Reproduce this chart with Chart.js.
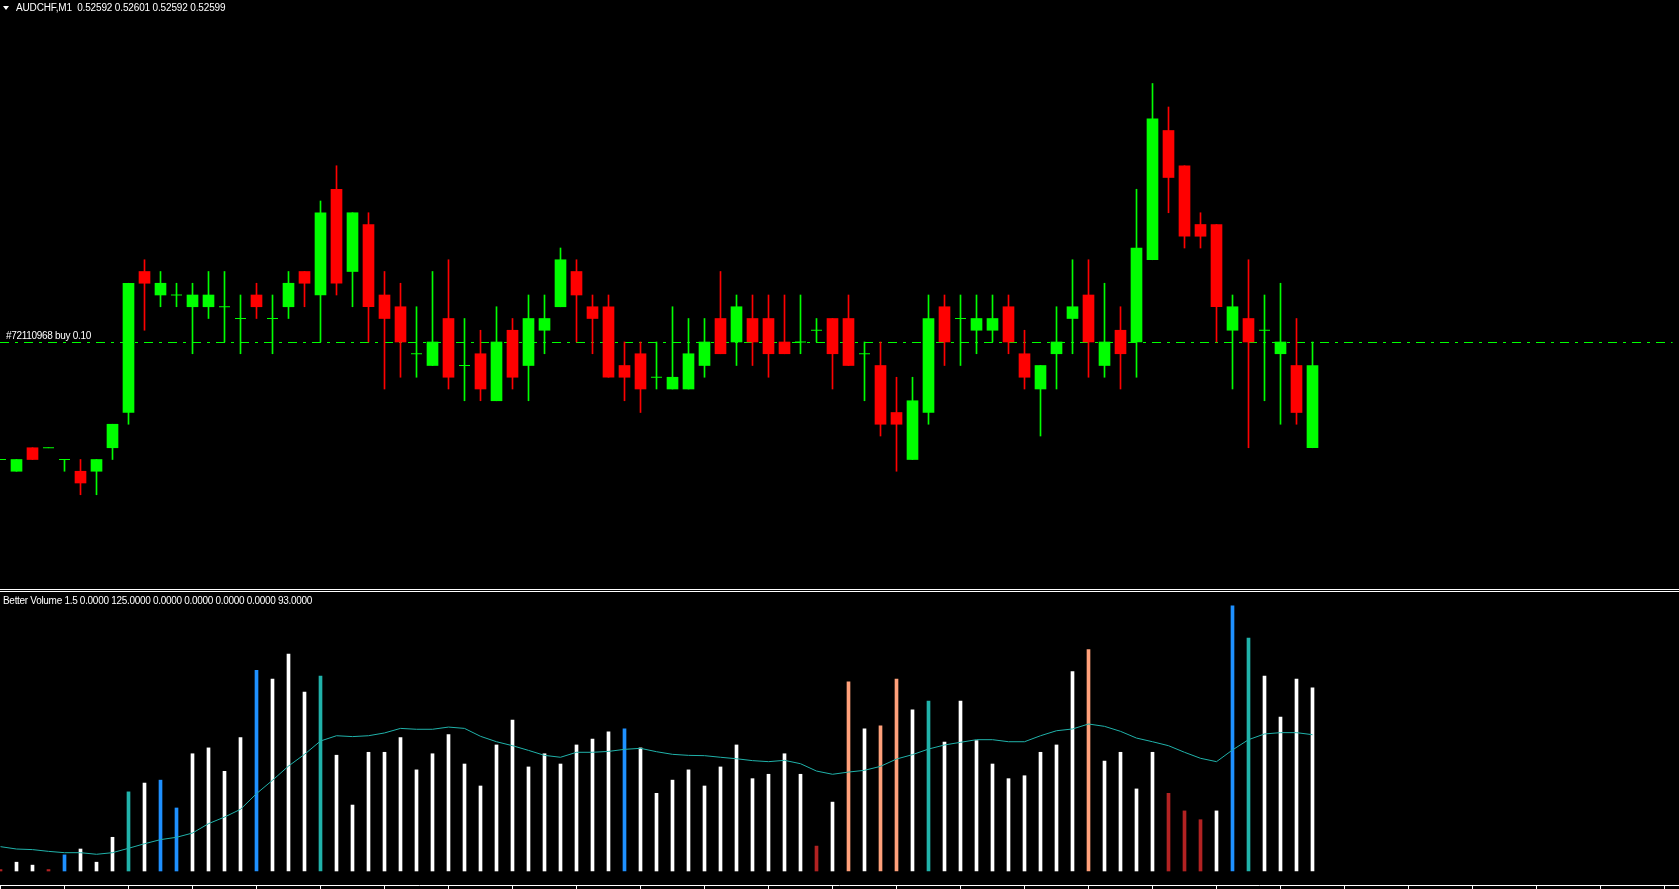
<!DOCTYPE html>
<html>
<head>
<meta charset="utf-8">
<script src="https://cdn.jsdelivr.net/npm/chart.js@4/dist/chart.umd.min.js"></script>
<style>
  body { margin: 0; background: #000; overflow: hidden; width: 1679px; height: 889px; position: relative;
         font-family: "Liberation Sans", Arial, sans-serif; }
  #price { position: absolute; left: 0; top: 0; }
  #vol { position: absolute; left: 0; top: 592px; }
  .lbl { position: absolute; color: #fff; font-size: 10px; line-height: 12px; letter-spacing: -0.3px; white-space: pre; }
  .sep { position: absolute; left: 0; width: 1679px; height: 1px; background: #fff; }
  #tri { position: absolute; left: 3px; top: 6px; width: 0; height: 0;
         border-left: 3px solid transparent; border-right: 3px solid transparent; border-top: 4px solid #fff; }
</style>
</head>
<body>
<canvas id="price" width="1679" height="589"></canvas>
<div class="sep" style="top:589px"></div>
<div class="sep" style="top:591px"></div>
<canvas id="vol" width="1679" height="297"></canvas>
<div id="tri"></div>
<div class="lbl" id="head" style="left:16px;top:2px;letter-spacing:-0.15px"></div>
<div class="lbl" id="order" style="left:6px;top:330px"></div>
<div class="lbl" id="ind" style="left:3px;top:595px"></div>

<script>
// AUDCHF M1 candles, oldest first
var symbol = "AUDCHF";
var timeframe = "M1";

var open = [0.52591,0.52590,0.52592,0.52592,0.52591,0.52590,0.52590,0.52592,0.52595,0.52607,
  0.52605,0.52605,0.52604,0.52604,0.52604,0.52603,0.52605,0.52603,0.52604,0.52607,
  0.52605,0.52614,0.52607,0.52611,0.52605,0.52604,0.52600,0.52599,0.52603,0.52599,
  0.52600,0.52596,0.52602,0.52599,0.52602,0.52604,0.52607,0.52604,0.52604,0.52599,
  0.52600,0.52598,0.52597,0.52597,0.52599,0.52603,0.52601,0.52603,0.52603,0.52601,
  0.52601,0.52602,0.52603,0.52603,0.52600,0.52599,0.52595,0.52591,0.52595,0.52604,
  0.52603,0.52602,0.52602,0.52604,0.52600,0.52597,0.52600,0.52603,0.52605,0.52599,
  0.52602,0.52601,0.52608,0.52619,0.52616,0.52611,0.52611,0.52602,0.52603,0.52602,
  0.52600,0.52599,0.52592];

var high = [0.52591,0.52591,0.52592,0.52592,0.52591,0.52591,0.52591,0.52594,0.52606,0.52608,
  0.52607,0.52606,0.52606,0.52607,0.52607,0.52605,0.52606,0.52605,0.52607,0.52607,
  0.52613,0.52616,0.52612,0.52612,0.52607,0.52606,0.52604,0.52607,0.52608,0.52603,
  0.52602,0.52604,0.52603,0.52605,0.52605,0.52609,0.52608,0.52605,0.52605,0.52601,
  0.52601,0.52601,0.52604,0.52603,0.52603,0.52607,0.52605,0.52605,0.52605,0.52605,
  0.52605,0.52603,0.52603,0.52605,0.52601,0.52601,0.52598,0.52598,0.52605,0.52605,
  0.52605,0.52605,0.52605,0.52605,0.52602,0.52599,0.52604,0.52608,0.52608,0.52606,
  0.52604,0.52614,0.52623,0.52621,0.52616,0.52612,0.52611,0.52605,0.52608,0.52605,
  0.52606,0.52603,0.52601];

var low = [0.52591,0.52590,0.52591,0.52592,0.52590,0.52588,0.52588,0.52591,0.52594,0.52602,
  0.52604,0.52604,0.52600,0.52603,0.52601,0.52600,0.52603,0.52600,0.52603,0.52604,
  0.52601,0.52605,0.52604,0.52601,0.52597,0.52598,0.52598,0.52599,0.52597,0.52596,
  0.52596,0.52596,0.52597,0.52596,0.52600,0.52604,0.52601,0.52600,0.52598,0.52596,
  0.52595,0.52597,0.52597,0.52597,0.52598,0.52600,0.52599,0.52599,0.52598,0.52600,
  0.52600,0.52601,0.52597,0.52599,0.52596,0.52593,0.52590,0.52591,0.52594,0.52599,
  0.52599,0.52600,0.52601,0.52600,0.52597,0.52593,0.52597,0.52600,0.52598,0.52598,
  0.52597,0.52598,0.52608,0.52612,0.52609,0.52609,0.52601,0.52597,0.52592,0.52596,
  0.52594,0.52594,0.52592];

var close = [0.52591,0.52591,0.52591,0.52592,0.52591,0.52589,0.52591,0.52594,0.52606,0.52606,
  0.52606,0.52605,0.52605,0.52605,0.52604,0.52603,0.52604,0.52603,0.52606,0.52606,
  0.52612,0.52606,0.52612,0.52604,0.52603,0.52601,0.52600,0.52601,0.52598,0.52599,
  0.52597,0.52601,0.52598,0.52603,0.52603,0.52608,0.52605,0.52603,0.52598,0.52598,
  0.52597,0.52598,0.52598,0.52600,0.52601,0.52600,0.52604,0.52601,0.52600,0.52600,
  0.52601,0.52602,0.52600,0.52599,0.52600,0.52594,0.52594,0.52596,0.52603,0.52601,
  0.52603,0.52603,0.52603,0.52601,0.52598,0.52599,0.52601,0.52604,0.52601,0.52601,
  0.52600,0.52609,0.52620,0.52615,0.52610,0.52610,0.52604,0.52604,0.52601,0.52602,
  0.52601,0.52595,0.52599];

// open position line
var orderTicket = "#72110968";
var orderType = "buy";
var orderLots = "0.10";
var orderPrice = 0.52601;

// Better Volume: tick volume, its average, and bar class
var volume = [1,6,4,1,11,15,6,23,54,60,
  62,43,80,84,68,91,137,131,148,122,
  133,79,45,81,81,91,69,80,93,73,
  58,86,103,71,80,73,86,90,95,97,
  84,53,62,69,58,71,86,63,66,80,
  66,17,47,129,97,99,131,110,116,88,
  116,89,73,63,65,81,86,136,151,75,
  81,56,81,53,41,35,41,181,159,133,
  105,131,125];

var volAvg = [16.6,15.0,14.6,13.4,12.5,12.5,11.4,12.5,15.5,18.6,
  21.4,23.0,25.9,32.3,36.8,42.1,52.8,61.9,71.6,79.6,
  88.7,92.3,91.7,92.3,94.2,97.3,96.7,96.7,98.2,97.3,
  91.9,88.2,85.5,82.3,78.9,77.6,81.0,81.0,81.6,83.0,
  83.7,81.4,79.6,78.9,78.7,77.6,76.6,75.3,74.6,75.5,
  73.2,68.2,66.0,67.5,68.7,71.4,76.4,79.4,83.2,86.0,
  87.8,89.6,89.6,88.2,88.2,92.3,95.7,96.9,100.3,98.7,
  95.3,90.7,88.2,85.5,81.0,76.9,74.6,82.6,89.6,93.5,
  94.4,94.4,93.0];

var volClass = ["r","w","w","r","b","w","w","w","t","w",
  "b","b","w","w","w","w","b","w","w","w",
  "t","w","w","w","w","w","w","w","w","w",
  "w","w","w","w","w","w","w","w","w","b",
  "w","w","w","w","w","w","w","w","w","w",
  "w","r","w","s","w","s","s","w","t","w",
  "w","w","w","w","w","w","w","w","s","w",
  "w","w","w","r","r","r","w","b","t","w",
  "w","w","w"];

var indLabel = "Better Volume 1.5 0.0000 125.0000 0.0000 0.0000 0.0000 0.0000 93.0000";

// ---- styles ----
var BULL = "#00ff00", BEAR = "#ff0000";
var volColors = { w: "#ffffff", b: "#1e90ff", t: "#20b2aa", r: "#b22222", s: "#ffa07a" };

var N = close.length;
var last = N - 1;
document.getElementById("head").textContent = symbol + "," + timeframe + "  " +
  open[last].toFixed(5) + " " + high[last].toFixed(5) + " " + low[last].toFixed(5) + " " + close[last].toFixed(5);
document.getElementById("order").textContent = orderTicket + " " + orderType + " " + orderLots;
document.getElementById("ind").textContent = indLabel;

// bar spacing 16px, first bar centred at 0.5px
var xMin = -1 / 32;
var xMax = xMin + 1679 / 16;
var pxPerPoint = 11.75;
var yTop = orderPrice + 342 / pxPerPoint / 100000;
var yBot = yTop - 589 / pxPerPoint / 100000;

var bodies = [], dojis = [], wicks = [];
for (var i = 0; i < N; i++) {
  wicks.push({ x: i, y: [low[i], high[i]], up: close[i] >= open[i] });
  if (open[i] === close[i]) dojis.push({ x: i, y: open[i] });
  else bodies.push({ x: i, y: [open[i], close[i]] });
}

var crispLine = {
  id: "crispLine",
  beforeDatasetDraw: function (chart, args) {
    if (chart.data.datasets[args.index].crisp) { chart.ctx.save(); chart.ctx.translate(0, 0.5); }
  },
  afterDatasetDraw: function (chart, args) {
    if (chart.data.datasets[args.index].crisp) chart.ctx.restore();
  }
};

var hidden = { display: false };

new Chart(document.getElementById("price"), {
  type: "bar",
  data: {
    datasets: [
      {
        data: bodies, barThickness: 11, grouped: false, borderWidth: 0,
        backgroundColor: function (c) { return c.raw && c.raw.y[1] >= c.raw.y[0] ? BULL : BEAR; }
      },
      {
        type: "scatter", data: dojis, pointStyle: "line", radius: 5.5, borderWidth: 1,
        borderColor: BULL, backgroundColor: BULL
      },
      {
        data: wicks, barThickness: 1, grouped: false, borderWidth: 0,
        backgroundColor: function (c) { return c.raw && c.raw.up ? BULL : BEAR; }
      },
      {
        type: "line", crisp: true,
        data: [{ x: xMin, y: orderPrice }, { x: xMax - 0.4, y: orderPrice }],
        borderColor: BULL, borderWidth: 1, borderDash: [9, 6, 3, 6], pointRadius: 0
      }
    ]
  },
  options: {
    responsive: false, animation: false, devicePixelRatio: 1,
    layout: { padding: 0, autoPadding: false },
    plugins: { legend: hidden, tooltip: { enabled: false } },
    scales: {
      x: { type: "linear", min: xMin, max: xMax, offset: false, display: false },
      y: { type: "linear", min: yBot, max: yTop, display: false }
    }
  },
  plugins: [crispLine]
});

var timeAxis = {
  id: "timeAxis",
  afterDraw: function (chart) {
    var ctx = chart.ctx, xs = chart.scales.x;
    var yLine = chart.height - 3.5;
    ctx.save();
    ctx.strokeStyle = "#ffffff";
    ctx.lineWidth = 1;
    ctx.beginPath();
    ctx.moveTo(0, yLine);
    ctx.lineTo(chart.width, yLine);
    for (var k = 0; k <= xMax; k += 4) {
      var px = Math.floor(xs.getPixelForValue(k)) + 0.5;
      ctx.moveTo(px, yLine);
      ctx.lineTo(px, chart.height);
    }
    ctx.stroke();
    ctx.restore();
  }
};

var pxPerTick = 1.4656;
var vMax = 279 / pxPerTick;
var vMin = -(297 - 279) / pxPerTick;

new Chart(document.getElementById("vol"), {
  type: "bar",
  data: {
    datasets: [
      {
        type: "line", data: volAvg.map(function (v, i) { return { x: i, y: v }; }),
        borderColor: "#20b2aa", borderWidth: 1, pointRadius: 0, tension: 0
      },
      {
        data: volume.map(function (v, i) { return { x: i, y: v }; }),
        barThickness: 3, grouped: false, borderWidth: 0,
        backgroundColor: volClass.map(function (c) { return volColors[c]; })
      }
    ]
  },
  options: {
    responsive: false, animation: false, devicePixelRatio: 1,
    layout: { padding: 0, autoPadding: false },
    plugins: { legend: hidden, tooltip: { enabled: false } },
    scales: {
      x: { type: "linear", min: xMin, max: xMax, offset: false, display: false },
      y: { type: "linear", min: vMin, max: vMax, display: false }
    }
  },
  plugins: [timeAxis]
});
</script>
</body>
</html>
